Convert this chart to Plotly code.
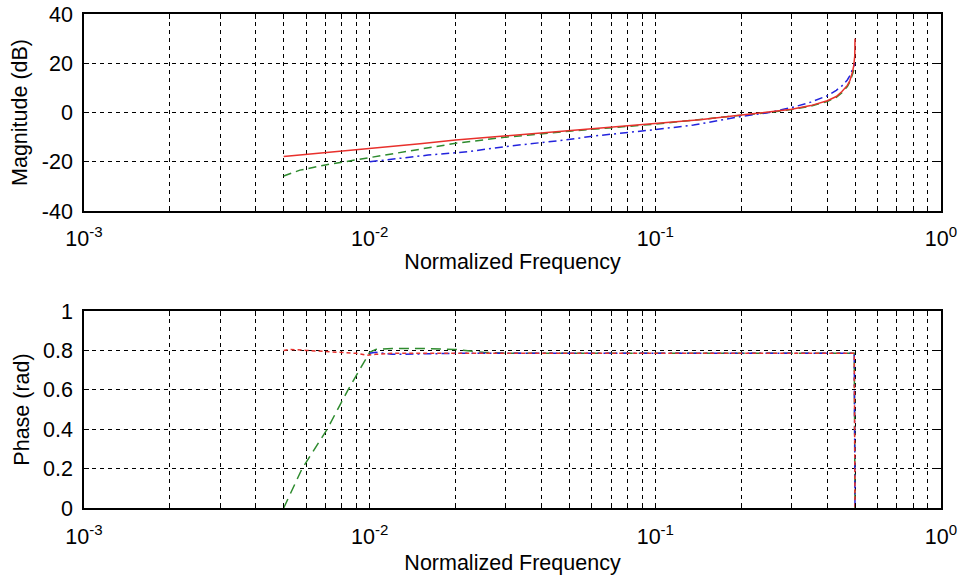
import plotly.graph_objects as go

# ---------------- data ----------------
# Magnitude (dB)
f_mag_red = [0.005, 0.0057, 0.007, 0.01, 0.015, 0.02, 0.03, 0.05, 0.064, 0.1, 0.143, 0.2,
             0.25, 0.3, 0.35, 0.4, 0.43, 0.45, 0.47, 0.48, 0.49, 0.495, 0.499, 0.5]
mag_red = [-17.9, -17.3, -16.2, -14.5, -12.7, -11.2, -9.5, -7.3, -6.3, -4.6, -2.9, -1.0,
           0.1, 1.3, 2.8, 4.8, 6.5, 8.5, 11.0, 13.0, 16.5, 19.0, 23.0, 30.0]

f_mag_green = [0.005, 0.0057, 0.007, 0.01, 0.015, 0.02, 0.03, 0.05, 0.1, 0.143, 0.2,
               0.25, 0.3, 0.35, 0.4, 0.43, 0.45, 0.47, 0.48, 0.49, 0.5]
mag_green = [-25.8, -23.4, -21.3, -18.3, -14.8, -12.5, -10.0, -7.6, -4.7, -3.0, -1.1,
             0.0, 1.2, 2.6, 4.5, 6.2, 8.0, 10.5, 12.5, 15.5, 19.0]

f_mag_blue = [0.01, 0.016, 0.022, 0.031, 0.048, 0.0615, 0.097, 0.136, 0.2, 0.25, 0.3,
              0.35, 0.4, 0.43, 0.45, 0.47, 0.48, 0.49, 0.5]
mag_blue = [-20.0, -17.3, -15.9, -13.6, -11.2, -9.5, -7.1, -5.1, -1.6, 0.0, 2.0,
            4.2, 6.8, 9.0, 10.8, 13.2, 15.0, 17.5, 20.0]

# Phase (rad)
f_ph_red = [0.005, 0.0053, 0.006, 0.007, 0.008, 0.009, 0.0098, 0.0105, 0.012, 0.02,
            0.05, 0.1, 0.2, 0.4, 0.497, 0.5]
ph_red = [0.80, 0.805, 0.80, 0.795, 0.79, 0.785, 0.775, 0.78, 0.785, 0.785,
          0.785, 0.785, 0.785, 0.785, 0.785, 0.0]

f_ph_green = [0.005, 0.0058, 0.0071, 0.0084, 0.0100, 0.0105, 0.012, 0.015, 0.02, 0.025,
              0.03, 0.1, 0.2, 0.4, 0.497, 0.5]
ph_green = [0.0, 0.2, 0.4, 0.6, 0.79, 0.805, 0.81, 0.81, 0.805, 0.79,
            0.785, 0.785, 0.785, 0.785, 0.785, 0.0]

f_ph_blue = [0.01, 0.0105, 0.012, 0.02, 0.05, 0.1, 0.2, 0.4, 0.497, 0.5]
ph_blue = [0.785, 0.79, 0.78, 0.785, 0.785, 0.785, 0.785, 0.785, 0.785, 0.0]

# axis ticks
x_tickvals = [k * 10.0 ** d for d in (-3, -2, -1) for k in range(1, 10)] + [1.0]
x_ticktext = [("10<sup>%d</sup>" % d if k == 1 else "") for d in (-3, -2, -1) for k in range(1, 10)] + ["10<sup>0</sup>"]
mag_ticks = [-40, -20, 0, 20, 40]
mag_ticktext = ["-40", "-20", "0", "20", "40"]
ph_ticks = [0, 0.2, 0.4, 0.6, 0.8, 1]
ph_ticktext = ["0", "0.2", "0.4", "0.6", "0.8", "1"]

RED = "#e8302c"
GREEN = "#2e8b2e"
BLUE = "#2323dd"
FONT = "Liberation Sans, Arial, Helvetica, sans-serif"
FS = 21.5

fig = go.Figure()
fig.add_trace(go.Scatter(x=f_mag_green, y=mag_green, mode="lines", xaxis="x", yaxis="y",
                         line=dict(color=GREEN, width=1.5, dash="8px,5px")))
fig.add_trace(go.Scatter(x=f_mag_blue, y=mag_blue, mode="lines", xaxis="x", yaxis="y",
                         line=dict(color=BLUE, width=1.5, dash="8px,4px,2px,4px")))
fig.add_trace(go.Scatter(x=f_mag_red, y=mag_red, mode="lines", xaxis="x", yaxis="y",
                         line=dict(color=RED, width=1.5)))

fig.add_trace(go.Scatter(x=f_ph_green, y=ph_green, mode="lines", xaxis="x2", yaxis="y2",
                         line=dict(color=GREEN, width=1.5, dash="10px,6px")))
fig.add_trace(go.Scatter(x=f_ph_blue, y=ph_blue, mode="lines", xaxis="x2", yaxis="y2",
                         line=dict(color=BLUE, width=1.5, dash="8px,4px,2px,4px")))
fig.add_trace(go.Scatter(x=f_ph_red, y=ph_red, mode="lines", xaxis="x2", yaxis="y2",
                         line=dict(color=RED, width=1.5, dash="4px,3px")))

grid = dict(showgrid=True, gridcolor="#000000", gridwidth=1.2, griddash="4px,4px",
            showline=True, linecolor="black", linewidth=1.5, mirror="allticks",
            ticks="inside", ticklen=5, tickcolor="black", zeroline=False, automargin=False,
            tickfont=dict(size=FS, color="black", family=FONT))

xcommon = dict(grid, type="log", range=[-3, 0], tickmode="array",
               tickvals=x_tickvals, ticktext=x_ticktext)

fig.update_layout(
    width=962, height=578,
    margin=dict(l=84, r=21, t=14, b=70),
    paper_bgcolor="white", plot_bgcolor="white",
    showlegend=False,
    font=dict(family=FONT, color="black", size=FS),
    xaxis=dict(xcommon, domain=[0, 1], anchor="y", ticklabelstandoff=7,
               title=dict(text="Normalized Frequency", font=dict(size=FS, color="black", family=FONT),
                          standoff=4)),
    yaxis=dict(grid, domain=[0.6012, 1.0], anchor="x", range=[-40, 40],
               tickmode="array", tickvals=mag_ticks, ticktext=mag_ticktext,
               ticklabelstandoff=5,
               title=dict(text="Magnitude (dB)", font=dict(size=FS, color="black", family=FONT),
                          standoff=8)),
    xaxis2=dict(xcommon, domain=[0, 1], anchor="y2", ticklabelstandoff=8,
                title=dict(text="Normalized Frequency", font=dict(size=FS, color="black", family=FONT),
                           standoff=7)),
    yaxis2=dict(grid, domain=[0.0, 0.3988], anchor="x2", range=[0, 1],
                tickmode="array", tickvals=ph_ticks, ticktext=ph_ticktext,
                ticklabelstandoff=5,
                title=dict(text="Phase (rad)", font=dict(size=FS, color="black", family=FONT),
                           standoff=8)),
)

fig.write_html("out.html")
